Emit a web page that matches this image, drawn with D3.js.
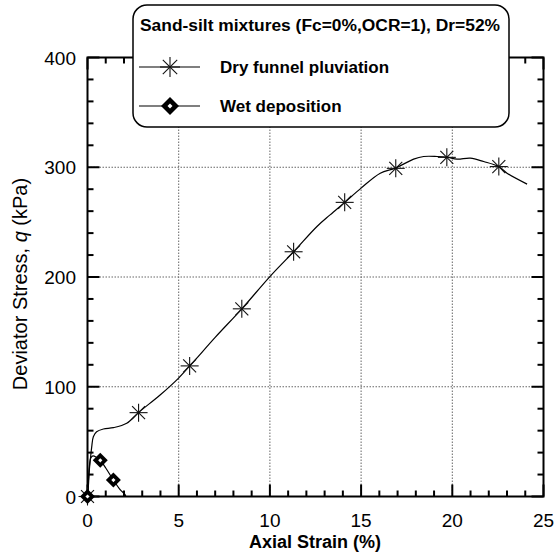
<!DOCTYPE html>
<html><head><meta charset="utf-8">
<script src="https://cdn.jsdelivr.net/npm/d3@7/dist/d3.min.js"></script>
<style>body{margin:0;background:#fff}svg{display:block}</style>
</head><body><svg id="c" width="557" height="556"></svg>
<script>
// ---- data ----
const dryCurveX = [0,0.05,0.1,0.17,0.23,0.32,0.5,0.87,1.42,2.15,2.79,3.98,4.98,5.6,5.9,7.0,8.46,10.0,11.3,12.58,13.3,14.1,15.0,16.05,16.88,17.88,18.43,19.17,19.71,20.26,20.99,21.72,22.55,23.0,24.1];
const dryCurveY = [0,10,24,36,45,54.5,59,61.5,62.7,66.7,76.4,92.5,107.7,119,124.4,145,171,200.4,223,246,256.6,268,281,294.6,299.2,307.4,309.8,309.8,309.2,307.4,308.3,305.2,300.6,294.6,284.6];
const dryMarkX = [0,2.8,5.6,8.46,11.3,14.1,16.9,19.7,22.55];
const dryMarkY = [0,76.4,119,171,223,268,299,309,300.6];
const wetCurveX = [0,0.05,0.1,0.18,0.3,0.5,0.7,1.0,1.42,1.8,2.05,2.1];
const wetCurveY = [0,14,27,35,37,35.5,33,26,15,6,2,0];
const wetMarkX = [0,0.7,1.42];
const wetMarkY = [0,33,15];
const xTicks = [0,5,10,15,20,25];
const yTicks = [0,100,200,300,400];
const legendTitle = "Sand-silt mixtures (Fc=0%,OCR=1), Dr=52%";
const seriesNames = ["Dry funnel pluviation","Wet deposition"];

// ---- layout ----
const L=87.5, R=543.5, T=57.5, B=496.5;
const FONT="'Liberation Sans', Arial, sans-serif";
const svg=d3.select("#c");
const x=d3.scaleLinear().domain([0,25]).range([L,R]);
const y=d3.scaleLinear().domain([0,400]).range([B,T]);

// grid
const g=svg.append("g");
g.selectAll("line.gx").data(xTicks.filter(d=>d>0&&d<25)).enter().append("line")
 .attr("x1",d=>x(d)).attr("x2",d=>x(d)).attr("y1",T).attr("y2",B)
 .attr("stroke","#666").attr("stroke-width",1).attr("stroke-dasharray","1.5,1.5");
g.selectAll("line.gy").data(yTicks.filter(d=>d>0&&d<400)).enter().append("line")
 .attr("y1",d=>y(d)).attr("y2",d=>y(d)).attr("x1",L).attr("x2",R)
 .attr("stroke","#666").attr("stroke-width",1).attr("stroke-dasharray","1.5,1.5");

// ticks (inward on all four sides)
const xMinor=d3.range(0,26,1), yMinor=d3.range(0,401,20);
function tk(vals, isMajor, fn){
  vals.forEach(v=>{ const len=isMajor(v)?12:6; fn(v,len); });
}
const tg=svg.append("g").attr("stroke","#000").attr("stroke-width",2);
tk(xMinor,v=>v%5===0,(v,len)=>{
  tg.append("line").attr("x1",x(v)).attr("x2",x(v)).attr("y1",B).attr("y2",B-len);
  tg.append("line").attr("x1",x(v)).attr("x2",x(v)).attr("y1",T).attr("y2",T+len);
});
tk(yMinor,v=>v%100===0,(v,len)=>{
  tg.append("line").attr("y1",y(v)).attr("y2",y(v)).attr("x1",L).attr("x2",L+len);
  tg.append("line").attr("y1",y(v)).attr("y2",y(v)).attr("x1",R).attr("x2",R-len);
});
// frame
svg.append("rect").attr("x",L).attr("y",T).attr("width",R-L).attr("height",B-T)
 .attr("fill","none").attr("stroke","#000").attr("stroke-width",2);

// tick labels
svg.append("g").selectAll("text").data(xTicks).enter().append("text")
 .attr("x",d=>x(d)).attr("y",527).attr("text-anchor","middle")
 .attr("font-family",FONT).attr("font-size",19).text(d=>d);
svg.append("g").selectAll("text").data(yTicks).enter().append("text")
 .attr("x",76).attr("y",d=>y(d)+7).attr("text-anchor","end")
 .attr("font-family",FONT).attr("font-size",19).text(d=>d);

// axis titles
svg.append("text").attr("x",315).attr("y",548).attr("text-anchor","middle")
 .attr("font-family",FONT).attr("font-size",18).attr("font-weight","bold").text("Axial Strain (%)");
const yt=svg.append("text").attr("transform","translate(27,284) rotate(-90)").attr("text-anchor","middle")
 .attr("font-family",FONT).attr("font-size",20);
yt.append("tspan").text("Deviator Stress, ");
yt.append("tspan").attr("font-style","italic").text("q");
yt.append("tspan").text(" (kPa)");

// curves
const lineGen=d3.line().x(d=>x(d[0])).y(d=>y(d[1])).curve(d3.curveCatmullRom);
const dryPts=dryCurveX.map((v,i)=>[v,dryCurveY[i]]);
const wetPts=wetCurveX.map((v,i)=>[v,wetCurveY[i]]);
svg.append("path").attr("d",lineGen(dryPts))
 .attr("fill","none").attr("stroke","#000").attr("stroke-width",1.2);
svg.append("path").attr("d",lineGen(wetPts))
 .attr("fill","none").attr("stroke","#000").attr("stroke-width",1.2);

// markers
function asterisk(sel,cx,cy,r){
  const a=sel.append("g").attr("transform",`translate(${cx},${cy})`).attr("stroke","#111").attr("stroke-width",1.1);
  [[0,-r,0,r],[-r,0,r,0],[-r*0.72,-r*0.72,r*0.72,r*0.72],[-r*0.72,r*0.72,r*0.72,-r*0.72]].forEach(s=>
    a.append("line").attr("x1",s[0]).attr("y1",s[1]).attr("x2",s[2]).attr("y2",s[3]));
}
function diamond(sel,cx,cy,r){
  const a=sel.append("g").attr("transform",`translate(${cx},${cy})`);
  a.append("path").attr("d",`M0,${-r}L${r},0L0,${r}L${-r},0Z`).attr("fill","#000");
  const s=r*0.28;
  a.append("path").attr("d",`M0,${-s}L${s},0L0,${s}L${-s},0Z`).attr("fill","#fff");
}
const mk=svg.append("g");
dryMarkX.forEach((v,i)=>asterisk(mk,x(v),y(dryMarkY[i]),9));
wetMarkX.forEach((v,i)=>diamond(mk,x(v),y(wetMarkY[i]),7.5));

// legend
const lg=svg.append("g");
lg.append("rect").attr("x",133).attr("y",5).attr("width",376).attr("height",122).attr("rx",14)
 .attr("fill","#fff").attr("stroke","#000").attr("stroke-width",1.5);
lg.append("text").attr("x",140).attr("y",31).attr("font-family",FONT).attr("font-size",17.4)
 .attr("font-weight","bold").text(legendTitle);
const ly=[67,106];
ly.forEach((yy,i)=>{
  lg.append("line").attr("x1",139).attr("x2",200).attr("y1",yy).attr("y2",yy).attr("stroke","#000").attr("stroke-width",1.2);
  if(i===0) asterisk(lg,170,yy,10); else diamond(lg,170,yy,9);
  lg.append("text").attr("x",220).attr("y",yy+6).attr("font-family",FONT).attr("font-size",17)
   .attr("font-weight","bold").text(seriesNames[i]);
});
</script></body></html>
